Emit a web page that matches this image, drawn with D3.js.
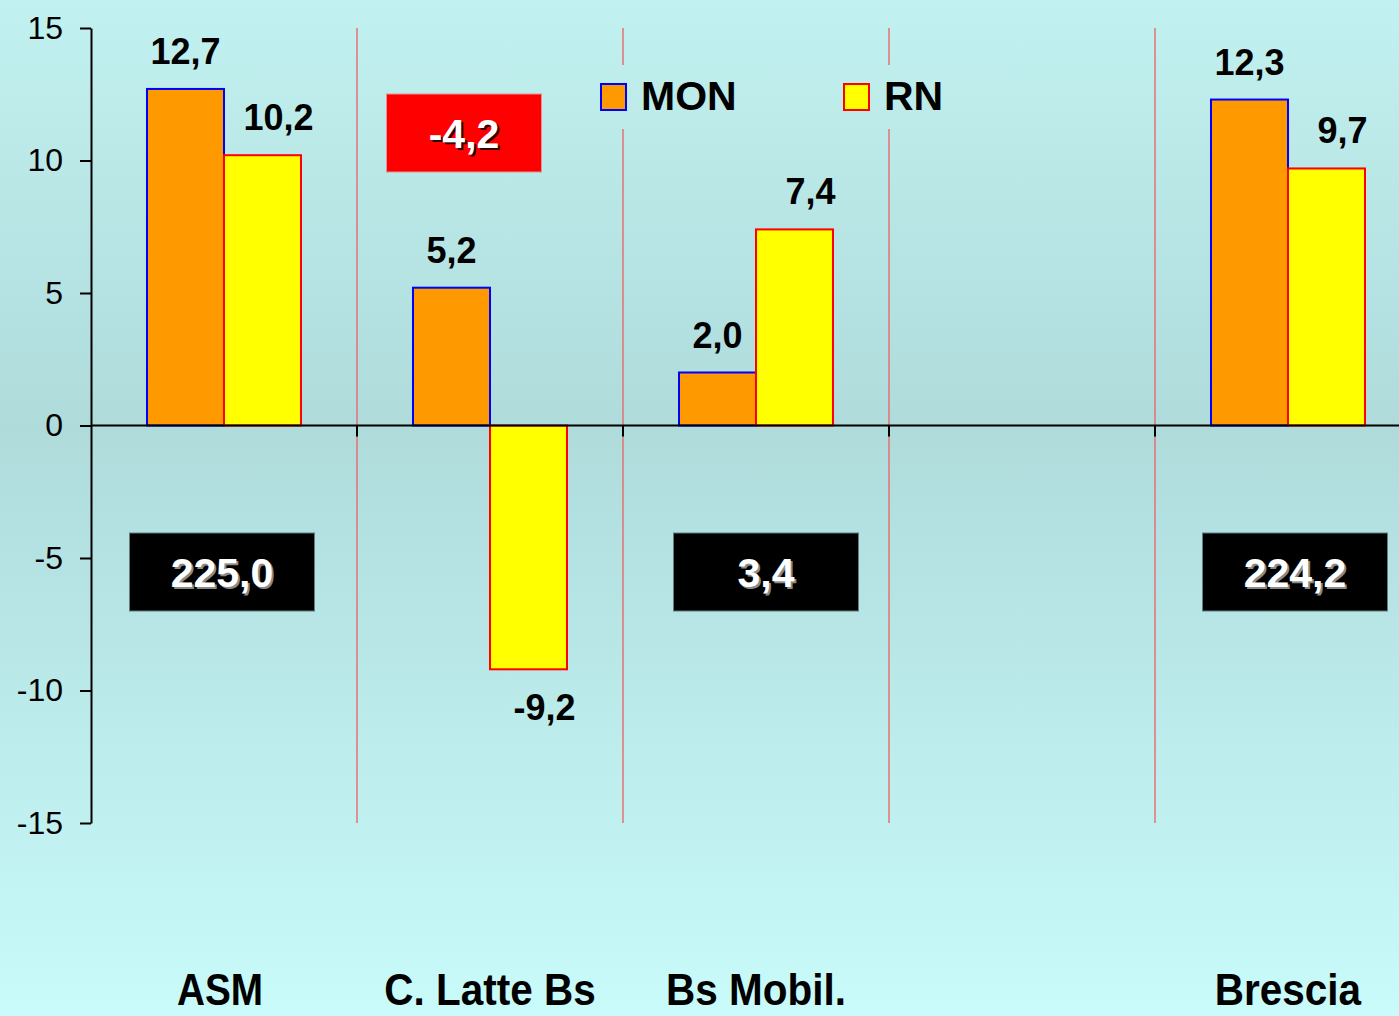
<!DOCTYPE html>
<html>
<head>
<meta charset="utf-8">
<script src="https://cdn.jsdelivr.net/npm/d3@7/dist/d3.min.js"></script>
<style>
  html, body { margin: 0; padding: 0; overflow: hidden; background: #c0efef; }
  svg { display: block; }
  text { font-family: "Liberation Sans", Arial, sans-serif; }
</style>
</head>
<body>
<svg id="chart" width="1399" height="1016"></svg>
<script>
// ---- data ----
const categories = ["ASM", "C. Latte Bs", "Bs Mobil.", "", "Brescia"];
const seriesNames = ["MON", "RN"];
const monValues = [12.7, 5.2, 2.0, null, 12.3];
const rnValues = [10.2, -9.2, 7.4, null, 9.7];
const boxLabels = ["225,0", "-4,2", "3,4", null, "224,2"];
const yTicks = [-15, -10, -5, 0, 5, 10, 15];

// ---- layout / style ----
const W = 1399, H = 1016;
const left = 91, bandW = 266;
const colors = { MON: "#ff9900", RN: "#ffff00" };
const strokes = { MON: "#0000ff", RN: "#ff0000" };
const boxDx = [-2, -26, 10, 0, 7];
const labelDx = [-4, 0, 0, 0, 0];

const svg = d3.select("#chart");
const defs = svg.append("defs");
const grad = defs.append("linearGradient").attr("id", "bg")
  .attr("gradientUnits", "userSpaceOnUse")
  .attr("x1", 0).attr("y1", 0).attr("x2", 0).attr("y2", H);
grad.append("stop").attr("offset", "0%").attr("stop-color", "#c1f1f0");
grad.append("stop").attr("offset", "42%").attr("stop-color", "#afdbdb");
grad.append("stop").attr("offset", "100%").attr("stop-color", "#c8fbfa");

svg.append("rect").attr("width", W).attr("height", H).attr("fill", "url(#bg)");

const x = d3.scaleBand().domain(categories.map((c, i) => i)).range([left, left + bandW * categories.length]).padding(0);
const xs = d3.scaleBand().domain(seriesNames).range([56, bandW - 56]).padding(0);
const y = d3.scaleLinear().domain([-15, 15]).range([823, 28]);

// red dividers
svg.append("g").selectAll("line").data(categories.slice(1).map((c, i) => i + 1)).join("line")
  .attr("x1", d => x(d)).attr("x2", d => x(d))
  .attr("y1", y(15)).attr("y2", y(-15))
  .attr("stroke", "#e86a6a").attr("stroke-width", 1.4);

// legend background (covers dividers)
svg.append("rect").attr("x", 592).attr("y", 65).attr("width", 370).attr("height", 64).attr("fill", "url(#bg)");

// bars
const data = [];
categories.forEach((c, i) => {
  if (monValues[i] != null) data.push({ i, s: "MON", v: monValues[i] });
  if (rnValues[i] != null) data.push({ i, s: "RN", v: rnValues[i] });
});
svg.append("g").selectAll("rect").data(data).join("rect")
  .attr("x", d => x(d.i) + xs(d.s))
  .attr("width", xs.bandwidth())
  .attr("y", d => y(Math.max(0, d.v)))
  .attr("height", d => Math.abs(y(d.v) - y(0)))
  .attr("fill", d => colors[d.s])
  .attr("stroke", d => strokes[d.s]).attr("stroke-width", 2);

// value labels
const fmt = v => d3.format(".1f")(v).replace(".", ",").replace("\u2212", "-");
svg.append("g").selectAll("text").data(data).join("text")
  .attr("x", d => x(d.i) + xs(d.s) + xs.bandwidth() / 2 + (d.s === "RN" ? 16 : 0))
  .attr("y", d => d.v >= 0 ? y(d.v) - 25 : y(d.v) + 51)
  .attr("text-anchor", "middle")
  .attr("font-size", 36).attr("font-weight", "bold").attr("fill", "#000")
  .text(d => fmt(d.v));

// zero line with band ticks
const zg = svg.append("g");
zg.append("line").attr("x1", left).attr("x2", W).attr("y1", y(0)).attr("y2", y(0))
  .attr("stroke", "#000").attr("stroke-width", 2);
zg.selectAll("line.t").data(categories.slice(1).map((c, i) => i + 1)).join("line")
  .attr("class", "t")
  .attr("x1", d => x(d)).attr("x2", d => x(d))
  .attr("y1", y(0)).attr("y2", y(0) + 11)
  .attr("stroke", "#000").attr("stroke-width", 2);

// y axis
const yAxis = d3.axisLeft(y).tickValues(yTicks).tickSize(11).tickSizeOuter(0).tickPadding(17)
  .tickFormat(d => String(d));
const ag = svg.append("g").attr("transform", `translate(${left},0)`).call(yAxis);
ag.select(".domain").attr("stroke", "#000").attr("stroke-width", 2);
ag.selectAll(".tick line").attr("stroke", "#000").attr("stroke-width", 2);
ag.selectAll(".tick text").attr("font-size", 32).attr("fill", "#000")
  .attr("font-family", "'Liberation Sans', Arial, sans-serif");

// boxes
const boxes = boxLabels.map((t, i) => ({ t, i })).filter(d => d.t != null);
const bg = svg.append("g").selectAll("g").data(boxes).join("g")
  .attr("transform", d => {
    const neg = d.t.startsWith("-");
    const w = neg ? 155 : 185;
    const cx = x(d.i) + bandW / 2 + boxDx[d.i];
    const top = neg ? 94 : 533;
    return `translate(${cx - w / 2},${top})`;
  });
bg.append("rect")
  .attr("width", d => d.t.startsWith("-") ? 155 : 185)
  .attr("height", 78)
  .attr("fill", d => d.t.startsWith("-") ? "#ff0000" : "#000000")
  .attr("stroke", d => d.t.startsWith("-") ? "#e89090" : "#5f7f7f").attr("stroke-width", 1);
bg.append("text")
  .attr("x", d => (d.t.startsWith("-") ? 155 : 185) / 2 + 2)
  .attr("y", 56)
  .attr("text-anchor", "middle").attr("font-size", 41).attr("font-weight", "bold")
  .attr("fill", d => d.t.startsWith("-") ? "#300000" : "#8a8a8a")
  .text(d => d.t);
bg.append("text")
  .attr("x", d => (d.t.startsWith("-") ? 155 : 185) / 2)
  .attr("y", 54)
  .attr("text-anchor", "middle").attr("font-size", 41).attr("font-weight", "bold")
  .attr("fill", "#ffffff")
  .text(d => d.t);

// legend
const legX = [601, 844];
const lg = svg.append("g").selectAll("g").data(seriesNames).join("g")
  .attr("transform", (d, i) => `translate(${legX[i]},84)`);
lg.append("rect").attr("width", 25).attr("height", 26)
  .attr("fill", d => colors[d]).attr("stroke", d => strokes[d]).attr("stroke-width", 2);
lg.append("text").attr("x", 40).attr("y", 26)
  .attr("font-size", 41).attr("font-weight", "bold").attr("fill", "#000")
  .text(d => d);

// category labels
svg.append("g").selectAll("text").data(categories.map((c, i) => ({ c, i })).filter(d => d.c)).join("text")
  .attr("transform", d => `translate(${x(d.i) + bandW / 2 + labelDx[d.i]},1005) scale(${d.i === 0 ? 0.88 : 0.92},1)`)
  .attr("text-anchor", "middle")
  .attr("font-size", 44).attr("font-weight", "bold").attr("fill", "#000")
  .text(d => d.c);
</script>
</body>
</html>
